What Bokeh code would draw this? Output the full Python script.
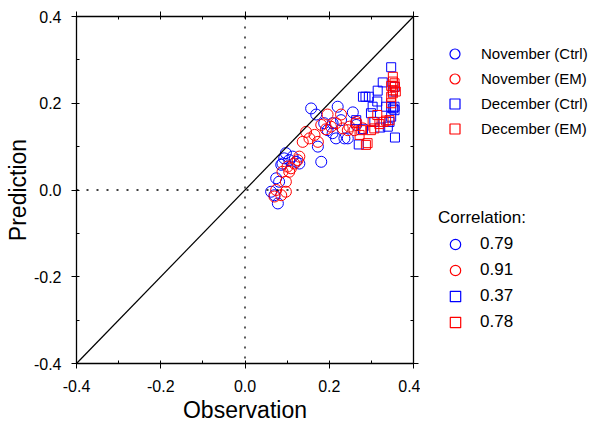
from bokeh.plotting import figure
from bokeh.layouts import row
from bokeh.models import (LinearAxis, FixedTicker, PrintfTickFormatter, Span, Slope,
                          Legend, LegendItem, Range1d, CustomJSTickFormatter)
from bokeh.embed import file_html
from bokeh.resources import INLINE

# ---- data ----
nov_ctrl_obs = [0.157, 0.169, 0.220, 0.256, 0.188, 0.196, 0.208, 0.216, 0.236, 0.244, 0.228, 0.264,
                0.173, 0.181, 0.097, 0.093, 0.089, 0.105, 0.121, 0.129, 0.086, 0.074, 0.081, 0.062,
                0.070, 0.078, 0.113, 0.208]
nov_ctrl_pred = [0.188, 0.174, 0.192, 0.179, 0.154, 0.138, 0.131, 0.119, 0.119, 0.119, 0.161, 0.150,
                 0.100, 0.065, 0.085, 0.073, 0.061, 0.069, 0.065, 0.061, 0.058, 0.027, 0.019, -0.004,
                 -0.012, -0.031, 0.077, 0.154]

nov_em_obs = [0.196, 0.228, 0.145, 0.137, 0.165, 0.173, 0.181, 0.204, 0.216, 0.232, 0.248, 0.244,
              0.129, 0.117, 0.101, 0.089, 0.097, 0.105, 0.074, 0.070, 0.097, 0.086, 0.280, 0.264,
              0.153, 0.109, 0.125, 0.192, 0.260]
nov_em_pred = [0.174, 0.174, 0.134, 0.111, 0.127, 0.111, 0.150, 0.146, 0.154, 0.142, 0.146, 0.138,
               0.077, 0.061, 0.054, 0.042, 0.019, 0.042, 0.000, -0.015, -0.004, -0.012, 0.142, 0.157,
               0.119, 0.050, 0.069, 0.140, 0.138]

dec_ctrl_obs = [0.347, 0.327, 0.315, 0.280, 0.286, 0.294, 0.314, 0.303, 0.299, 0.335, 0.351, 0.355,
                0.351, 0.355, 0.264, 0.280, 0.270, 0.321, 0.339, 0.356, 0.347, 0.307, 0.343, 0.347,
                0.355]
dec_ctrl_pred = [0.283, 0.248, 0.229, 0.215, 0.215, 0.215, 0.204, 0.192, 0.177, 0.192, 0.188, 0.184,
                 0.227, 0.238, 0.161, 0.140, 0.105, 0.144, 0.146, 0.121, 0.169, 0.157, 0.157, 0.192,
                 0.192]

dec_em_obs = [0.351, 0.351, 0.355, 0.356, 0.351, 0.358, 0.347, 0.264, 0.276, 0.272, 0.287, 0.291,
              0.303, 0.314, 0.307, 0.319, 0.329, 0.335, 0.343, 0.299, 0.347, 0.351, 0.347]
dec_em_pred = [0.261, 0.250, 0.246, 0.238, 0.230, 0.227, 0.240, 0.154, 0.138, 0.127, 0.104, 0.108,
               0.157, 0.173, 0.142, 0.152, 0.157, 0.160, 0.161, 0.138, 0.200, 0.223, 0.215]

series_labels = ["November (Ctrl)", "November (EM)", "December (Ctrl)", "December (EM)"]
series_markers = ["circle", "circle", "square", "square"]
correlations = ["0.79", "0.91", "0.37", "0.78"]
major_ticks = [-0.4, -0.2, 0.0, 0.2, 0.4]
minor_ticks = [-0.3, -0.1, 0.1, 0.3]

FONT = "Liberation Sans"
BLUE = "#0000ff"
RED = "#ff0000"
series_colors = [BLUE, RED, BLUE, RED]

p = figure(width=420, height=427, frame_width=337, frame_height=347,
           x_range=Range1d(-0.4, 0.4), y_range=Range1d(-0.4, 0.4),
           output_backend="svg", toolbar_location=None,
           x_axis_label="Observation", y_axis_label="Prediction",
           min_border_left=76, min_border_right=7, min_border_top=16, min_border_bottom=64)
p.grid.visible = False
p.outline_line_color = None
p.background_fill_color = "white"
p.border_fill_color = "white"

ticker = FixedTicker(ticks=major_ticks, minor_ticks=minor_ticks)

def style_axis(ax, labels=True, standoff=10, label_standoff=2):
    ax.ticker = ticker
    ax.axis_line_color = "black"
    ax.axis_line_width = 1.3
    ax.major_tick_line_color = "black"
    ax.minor_tick_line_color = "black"
    ax.major_tick_out = 5
    ax.major_tick_in = 3
    ax.minor_tick_out = 0
    ax.minor_tick_in = 3
    ax.major_label_text_font = FONT
    ax.major_label_text_font_size = "16px"
    ax.major_label_text_color = "black"
    ax.axis_label_text_font = FONT
    ax.axis_label_text_font_size = "23px"
    ax.axis_label_text_font_style = "normal"
    ax.axis_label_text_color = "black"
    if labels:
        ax.formatter = PrintfTickFormatter(format="%.1f")
        ax.major_label_standoff = standoff
        ax.axis_label_standoff = label_standoff
    else:
        ax.formatter = CustomJSTickFormatter(code="return ''")
        ax.major_label_standoff = 0
        ax.major_label_text_font_size = "0px"

for ax in p.xaxis:
    style_axis(ax, standoff=11, label_standoff=2)
for ax in p.yaxis:
    style_axis(ax, standoff=10, label_standoff=0)

top_ax = LinearAxis()
right_ax = LinearAxis()
style_axis(top_ax, labels=False)
style_axis(right_ax, labels=False)
p.add_layout(top_ax, "above")
p.add_layout(right_ax, "right")

# reference lines
p.add_layout(Slope(gradient=1, y_intercept=0, line_color="black", line_width=1.2))
p.add_layout(Span(location=0, dimension="width", line_color="black", line_width=1.3, line_dash="2 8"))
p.add_layout(Span(location=0, dimension="height", line_color="black", line_width=1.3, line_dash="2 8"))

xs = [nov_ctrl_obs, nov_em_obs, dec_ctrl_obs, dec_em_obs]
ys = [nov_ctrl_pred, nov_em_pred, dec_ctrl_pred, dec_em_pred]
sizes = {"circle": 11, "square": 9}
for x, y, m, c in zip(xs, ys, series_markers, series_colors):
    p.scatter(x, y, marker=m, size=sizes[m], fill_color=None, line_color=c, line_width=1)

# ---- legend panel (separate figure to the right; its frame is aligned with the main frame) ----
q = figure(width=177, height=427, x_range=Range1d(10, 11), y_range=Range1d(10, 11),
           output_backend="svg", toolbar_location=None,
           x_axis_location=None, y_axis_location=None, min_border=0)
q.grid.visible = False
q.outline_line_color = None
q.background_fill_color = "white"
q.border_fill_color = "white"

# legend proxies: same series data, kept out of this panel's visible range
legend_renderers = [q.scatter(x, y, marker=m, fill_color=None, line_color=c, line_width=1.2)
                    for x, y, m, c in zip(xs, ys, series_markers, series_colors)]

def make_legend(items, title=None, gw=25, gh=25, standoff=14, loc=(0, 0), fs="15px"):
    lg = Legend(items=items, location=loc, orientation="vertical",
                glyph_width=gw, glyph_height=gh, spacing=0,
                label_standoff=standoff, padding=0, margin=0,
                border_line_color=None, background_fill_alpha=0,
                label_text_font=FONT, label_text_font_size=fs, label_text_color="black",
                label_height=gh)
    if title:
        lg.title = title
        lg.title_text_font = FONT
        lg.title_text_font_size = fs
        lg.title_text_font_style = "normal"
        lg.title_text_color = "black"
        lg.title_standoff = 3
    return lg

leg1 = make_legend([LegendItem(label=l, renderers=[r]) for l, r in zip(series_labels, legend_renderers)],
                   gw=25, gh=25, standoff=14, loc=(22, 222), fs="15px")
leg2 = make_legend([LegendItem(label=c, renderers=[r]) for c, r in zip(correlations, legend_renderers)],
                   title="Correlation:", gw=34, gh=26, standoff=8, loc=(18, 28), fs="17px")
q.add_layout(leg1)
q.add_layout(leg2)

open("out.html", "w").write(file_html(row(p, q), INLINE))
